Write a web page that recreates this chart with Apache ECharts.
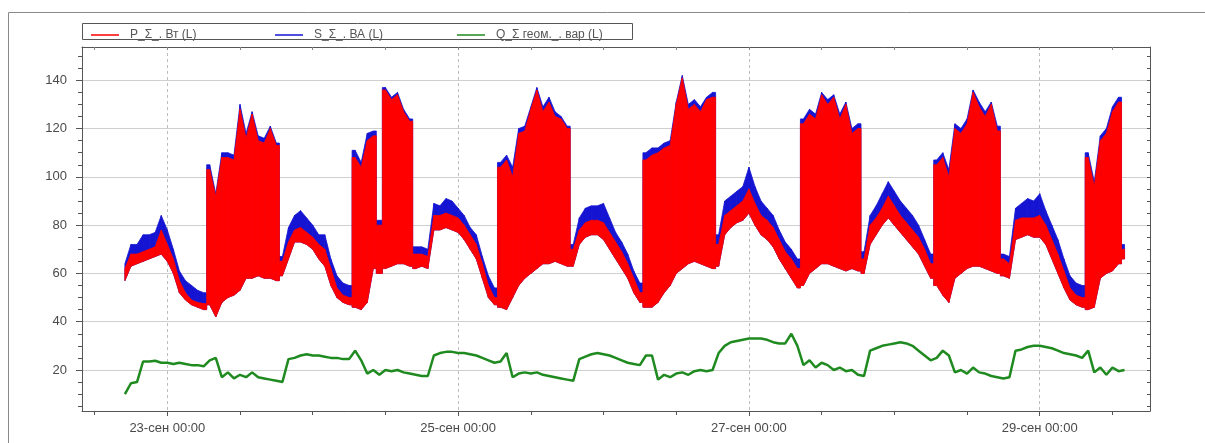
<!DOCTYPE html>
<html>
<head>
<meta charset="utf-8">
<script src="https://cdn.jsdelivr.net/npm/echarts@6/dist/echarts.min.js"></script>
<style>
html,body{margin:0;padding:0;background:#fff;}
#chart{width:1205px;height:443px;}
</style>
</head>
<body>
<div id="chart"></div>
<script>
// Series names (legend)
const P_NAME = 'P_Σ_. Вт (L)';
const S_NAME = 'S_Σ_. ВА (L)';
const Q_NAME = 'Q_Σ геом._. вар (L)';

// Hourly samples, starting 22-сен 17:00 (hour 17 after 22-сен 00:00)
const START_HOUR = 17;

// P: lower and upper envelope of the red trace
const pLo = [
  57,63,64,65,66,67,68,65,60,52,
  49,47,46,45,47,42,48,50,51,53,
  58,58,59,58,58,57,59,66,73,73,
  72,70,66,63,55,50,48,47,46,45,
  48,62,60,62,63,64,64,63,62,63,
  62,78,78,79,78,77,74,70,66,58,
  50,47,46,45,50,55,58,60,62,64,
  64,65,64,63,63,72,75,76,76,74,
  70,66,62,58,52,48,46,46,48,52,
  55,60,62,64,65,64,63,62,63,76,
  79,81,82,85,80,76,74,71,66,62,
  58,54,55,60,62,64,64,63,62,61,
  62,61,60,72,76,80,83,80,77,74,
  71,68,63,58,55,51,48,58,60,62,
  63,63,62,61,60,59,58,74,75,76,
  75,75,72,66,60,54,49,47,46,45,
  46,58,60,61,64,66
];
const pHi = [
  62,68,68,69,70,71,78,72,66,57,
  52,49,48,47.5,103,92,108,108,107,128,
  116,126,115,114,120,113,65,73,78,79,
  77,75,72,70,62,54,51,50,108,104,
  115,117,80,136,132,134,127,123,68,68,
  67,84,84,85,84,83,80,76,72,64,
  55,50,104,107,100,118,119,128,136,127,
  131,125,124,120,70,78,81,82,82,81,
  77,73,69,64,58,52,107,109,110,112,
  113,130,141,128,130,127,132,133,72,84,
  86,88,90,95,89,84,82,79,74,69,
  66,62,122,126,124,134,130,133,124,130,
  118,120,66,80,83,87,92,88,84,81,
  78,75,70,64,105,108,100,120,118,122,
  135,129,125,130,119,66,64,82,83,83,
  83,84,80,74,68,61,54,51,50,108,
  96,115,118,127,131,70
];
// S: upper envelope of the blue trace
const sHi = [
  64,72,72,76,76,77,84,78,70,61,
  57,55,53,52,105,93,110,110,109,130,
  118,127,117,116,121,114,67,79,84,86,
  83,80,76,76,66,59,56,55,111,106,
  118,119,82,137,133,135,128,124,71,71,
  70,89,88,91,90,87,84,79,76,67,
  59,54,106,109,104,120,121,129,137,129,
  133,127,125,121,72,83,87,88,88,89,
  83,77,73,68,61,56,110,112,112,114,
  115,131,142,130,132,129,133,135,76,90,
  92,94,96,104,96,90,87,84,78,73,
  70,66,124,128,126,135,132,134,126,131,
  120,122,69,84,88,93,98,94,90,87,
  84,80,74,68,107,110,103,122,120,124,
  136,131,127,131,121,68,67,87,89,91,
  90,93,86,80,74,66,59,56,55,110,
  98,117,120,129,133,72
];
// Q: green trace
const q = [
  10,14.5,15,23.5,23.5,23.8,23,23,22.5,23,
  22.5,22,22,21.5,24,25,17,19,16.5,18,
  17,19,17,16.5,16,15.5,15,24.5,25,26,
  26.5,26,26,25.5,25,25,24.5,24.5,28,24,
  18.5,20,18,20,19.5,20,19,18.5,18,17.5,
  17.5,26,27,27.5,27.5,27,27,26.5,26,25,
  24,23,23.5,27,17,18.5,19,18.5,19,18,
  17.5,17,16.5,16,15.5,24.5,25.5,26.5,27,26.5,
  26,25,24,23,22.5,22,26,26,16,18,
  17,18.5,19,18,19.5,20,19.5,20,27,30,
  31.5,32,32.5,33,33,33,32.5,31.5,31,31,
  35,30,22,24,21,23,22,20,21,19.5,
  20,18,17.5,28,29,30,30.5,31,31.5,31,
  30,28,26,24,25,28,26,19,20,18.5,
  21,19,18.5,17.5,17,16.5,17,28,28.5,29.5,
  30,30,29.5,29,28,27,26.5,26,25,28,
  19,21,18,21,19.5,20
];

// Axis ticks (hours after 22-сен 00:00) and value ticks
const xLabelHours = [24, 72, 120, 168];
const xTickHours = [12,24,36,48,60,72,84,96,108,120,132,144,156,168,180];
const yLabelValues = [20,40,60,80,100,120,140];
const yMinorValues = [5,10,15,20,25,30,35,40,45,50,55,60,65,70,75,80,85,90,95,100,105,110,115,120,125,130,135,140,145,150];
const MONTH = 'сен';

const DAY0 = Date.UTC(2020, 8, 22);
const HOUR = 3600000;
const toT = h => DAY0 + h * HOUR;
const times = pLo.map((_, i) => toT(START_HOUR + i));
const X_MIN = toT(9.92), X_MAX = toT(186.2);
const Y_MIN = 3, Y_MAX = 153.8;

const pairs = arr => arr.map((v, i) => [times[i], v]);
// band segments: [t0, lo0, hi0, t1, lo1, hi1]
const bandSegs = (lo, hi) => {
  const out = [];
  for (let i = 0; i + 1 < lo.length; i++) out.push([times[i], lo[i], hi[i], times[i + 1], lo[i + 1], hi[i + 1]]);
  return out;
};

const pad = n => (n < 10 ? '0' : '') + n;
const fmt = v => { const d = new Date(v); return d.getUTCDate() + '-' + MONTH + ' ' + pad(d.getUTCHours()) + ':' + pad(d.getUTCMinutes()); };

const RED = '#ff0000', BLUE = '#1414d2', GREEN = '#1f8a1f';
const AXIS = '#555';
const TXT = { color: '#4a4a4a', fontSize: 13, fontFamily: 'Liberation Sans, Arial, sans-serif' };
const JUMP = 25; // a switch between regimes is drawn as a vertical edge

function bandRenderer(color) {
  return function (params, api) {
    const t0 = api.value(0), lo0 = api.value(1), hi0 = api.value(2);
    const t1 = api.value(3), lo1 = api.value(4), hi1 = api.value(5);
    let pts;
    if (Math.abs(hi1 - hi0) > JUMP) {
      const tm = (t0 + t1) / 2;
      pts = [[t0, hi0], [tm, hi0], [tm, hi1], [t1, hi1], [t1, lo1], [tm, lo1], [tm, lo0], [t0, lo0]];
    } else {
      pts = [[t0, hi0], [t1, hi1], [t1, lo1], [t0, lo0]];
    }
    return {
      type: 'polygon',
      shape: { points: pts.map(p => api.coord(p)) },
      style: { fill: color, stroke: color, lineWidth: 0.8 }
    };
  };
}

const chart = echarts.init(document.getElementById('chart'), null, { renderer: 'canvas' });

const legendCommon = {
  top: 24, icon: 'rect', itemWidth: 28, itemHeight: 1.5, selectedMode: false,
  textStyle: { color: '#555', fontSize: 12, fontFamily: 'Liberation Sans, Arial, sans-serif', padding: [0, 0, 0, 6] }
};

chart.setOption({
  animation: false,
  backgroundColor: '#fff',
  graphic: [
    { type: 'rect', silent: true, shape: { x: 8.5, y: 12.5, width: 1400, height: 600 }, style: { fill: 'none', stroke: '#8a8a8a', lineWidth: 1 } },
    { type: 'rect', silent: true, shape: { x: 82.5, y: 23.5, width: 550, height: 16 }, style: { fill: 'none', stroke: '#555', lineWidth: 1 } }
  ],
  legend: [
    Object.assign({ left: 86, data: [P_NAME] }, legendCommon),
    Object.assign({ left: 270, data: [S_NAME] }, legendCommon),
    Object.assign({ left: 452, data: [Q_NAME] }, legendCommon)
  ],
  grid: { left: 82, right: 55, top: 47, bottom: 32, containLabel: false, outerBoundsMode: 'none' },
  xAxis: [
    {
      type: 'value', position: 'bottom', min: X_MIN, max: X_MAX, scale: true,
      axisLine: { show: true, onZero: false, lineStyle: { color: AXIS, width: 1 } },
      axisTick: { show: true, length: 5, customValues: xLabelHours.map(toT), lineStyle: { color: AXIS } },
      axisLabel: { show: true, customValues: xLabelHours.map(toT), formatter: v => fmt(v), margin: 11, hideOverlap: false, ...TXT },
      splitLine: { show: true, lineStyle: { color: '#bdbdbd', type: [3, 3], width: 1 } }
    },
    {
      type: 'value', position: 'bottom', min: X_MIN, max: X_MAX, scale: true,
      axisLine: { show: false, onZero: false },
      axisTick: { show: true, length: 4, customValues: xTickHours.map(toT), lineStyle: { color: AXIS } },
      axisLabel: { show: false },
      splitLine: { show: false }
    },
    {
      type: 'value', position: 'top', min: X_MIN, max: X_MAX, scale: true,
      axisLine: { show: true, onZero: false, lineStyle: { color: AXIS, width: 1 } },
      axisTick: { show: true, inside: true, length: 3, customValues: xTickHours.map(toT), lineStyle: { color: '#888' } },
      axisLabel: { show: false },
      splitLine: { show: false }
    }
  ],
  yAxis: [
    {
      type: 'value', position: 'left', min: Y_MIN, max: Y_MAX,
      axisLine: { show: true, onZero: false, lineStyle: { color: AXIS, width: 1 } },
      axisTick: { show: true, length: 6, customValues: yLabelValues, lineStyle: { color: AXIS } },
      axisLabel: { show: true, customValues: yLabelValues, margin: 15, ...TXT },
      splitLine: { show: true, lineStyle: { color: '#cfcfcf', width: 1 } }
    },
    {
      type: 'value', position: 'left', min: Y_MIN, max: Y_MAX,
      axisLine: { show: false, onZero: false },
      axisTick: { show: true, length: 4, customValues: yMinorValues, lineStyle: { color: AXIS } },
      axisLabel: { show: false },
      splitLine: { show: false }
    },
    {
      type: 'value', position: 'right', min: Y_MIN, max: Y_MAX,
      axisLine: { show: true, onZero: false, lineStyle: { color: AXIS, width: 1 } },
      axisTick: { show: true, inside: true, length: 3, customValues: yMinorValues, lineStyle: { color: AXIS } },
      axisLabel: { show: false },
      splitLine: { show: false }
    }
  ],
  series: [
    {
      name: S_NAME, type: 'custom', color: BLUE, itemStyle: { color: BLUE },
      xAxisIndex: 0, yAxisIndex: 0,
      renderItem: bandRenderer(BLUE),
      encode: { x: [0, 3], y: [1, 2, 4, 5] },
      data: bandSegs(pLo, sHi), silent: true
    },
    {
      name: P_NAME, type: 'custom', color: RED, itemStyle: { color: RED },
      xAxisIndex: 0, yAxisIndex: 0,
      renderItem: bandRenderer(RED),
      encode: { x: [0, 3], y: [1, 2, 4, 5] },
      data: bandSegs(pLo, pHi), silent: true
    },
    {
      name: Q_NAME, type: 'line', data: pairs(q), symbol: 'none', color: GREEN,
      xAxisIndex: 0, yAxisIndex: 0,
      lineStyle: { color: GREEN, width: 2.5 }
    }
  ]
});
</script>
</body>
</html>
